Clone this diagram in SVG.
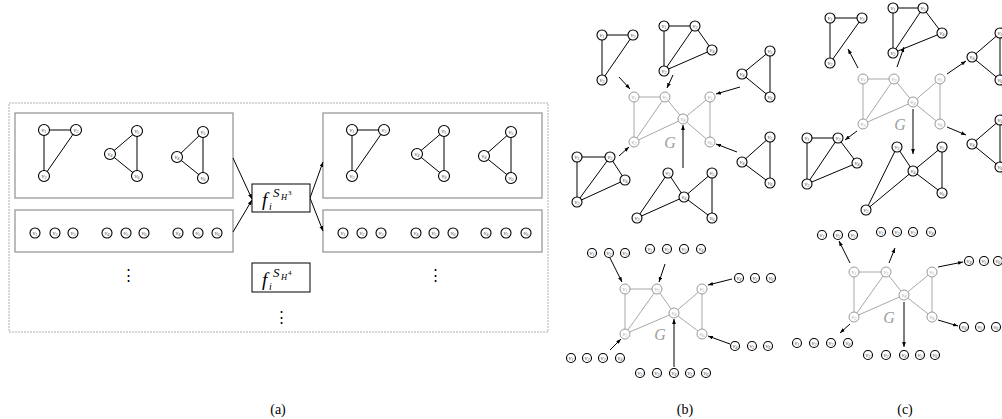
<svg xmlns="http://www.w3.org/2000/svg" width="1002" height="419" viewBox="0 0 1002 419">
<defs>
<marker id="ah" viewBox="0 0 8 6" refX="8" refY="3" markerWidth="5" markerHeight="4" orient="auto"><path d="M0,0 L8,3 L0,6 z" fill="#000"/></marker>
</defs>
<style>
.k{fill:#fff;stroke:#000;stroke-width:1.1}
.q{fill:#fff;stroke:#999;stroke-width:1}
.l{font-family:"Liberation Serif",serif;font-style:italic;font-size:6.5px;fill:#555;text-anchor:middle}
.lq{fill:#aaa}
.sb{font-size:4.5px}
.e{stroke:#000;stroke-width:1;fill:none}
.ge{stroke:#a8a8a8;stroke-width:1}
.ar{stroke:#000;stroke-width:1;marker-end:url(#ah)}
.box{fill:none;stroke:#999;stroke-width:1.3}
.dash{fill:none;stroke:#999;stroke-width:0.8;stroke-dasharray:2 1}
.fb{fill:#fff;stroke:#000;stroke-width:1}
.fi{font-family:"Liberation Serif",serif;font-style:italic;fill:#000}
.cap{font-family:"Liberation Serif",serif;font-size:14px;text-anchor:middle;fill:#000}
.dots{font-family:"DejaVu Serif",serif;font-size:15px;text-anchor:middle;fill:#000}
.G{font-family:"Liberation Serif",serif;font-style:italic;font-size:16px;fill:#a0a0a0;text-anchor:middle}
</style>
<rect id="panelA" class="dash" x="9" y="103" width="539" height="229"/>
<rect id="boxL1" class="box" x="15" y="113" width="218" height="85"/>
<rect id="boxL2" class="box" x="15" y="210" width="218" height="42"/>
<rect id="boxR1" class="box" x="323" y="113" width="219" height="85"/>
<rect id="boxR2" class="box" x="323" y="210" width="219" height="42"/>
<g id="connectors">
<line class="e" x1="44" y1="130" x2="76" y2="130"/><line class="e" x1="44" y1="130" x2="44" y2="176"/><line class="e" x1="76" y1="130" x2="44" y2="176"/>
<line class="e" x1="110" y1="154" x2="137" y2="131"/><line class="e" x1="110" y1="154" x2="137" y2="176"/><line class="e" x1="137" y1="131" x2="137" y2="176"/>
<line class="e" x1="177" y1="157" x2="203" y2="132"/><line class="e" x1="177" y1="157" x2="203" y2="178"/><line class="e" x1="203" y1="132" x2="203" y2="178"/>
<line class="e" x1="352" y1="130" x2="384" y2="130"/><line class="e" x1="352" y1="130" x2="352" y2="176"/><line class="e" x1="384" y1="130" x2="352" y2="176"/>
<line class="e" x1="417" y1="154" x2="444" y2="131"/><line class="e" x1="417" y1="154" x2="444" y2="176"/><line class="e" x1="444" y1="131" x2="444" y2="176"/>
<line class="e" x1="484" y1="156" x2="511" y2="132"/><line class="e" x1="484" y1="156" x2="511" y2="178"/><line class="e" x1="511" y1="132" x2="511" y2="178"/>
<line class="ar" x1="233" y1="158" x2="252" y2="199"/><line class="ar" x1="233" y1="232" x2="252" y2="200"/>
<line class="ar" x1="310" y1="198" x2="323" y2="162"/><line class="ar" x1="310" y1="198" x2="323" y2="231"/>
<line class="ge" x1="634" y1="97" x2="665" y2="97"/><line class="ge" x1="634" y1="97" x2="634" y2="142"/><line class="ge" x1="634" y1="142" x2="665" y2="97"/><line class="ge" x1="634" y1="142" x2="683" y2="119"/><line class="ge" x1="665" y1="97" x2="683" y2="119"/><line class="ge" x1="683" y1="119" x2="710" y2="97"/><line class="ge" x1="683" y1="119" x2="710" y2="142"/><line class="ge" x1="710" y1="97" x2="710" y2="142"/>
<line class="e" x1="602" y1="35" x2="633" y2="35"/><line class="e" x1="602" y1="35" x2="602" y2="80"/><line class="e" x1="633" y1="35" x2="602" y2="80"/>
<line class="e" x1="664" y1="26" x2="695" y2="26"/><line class="e" x1="664" y1="26" x2="664" y2="71"/><line class="e" x1="664" y1="71" x2="695" y2="26"/><line class="e" x1="695" y1="26" x2="712" y2="50"/><line class="e" x1="664" y1="71" x2="712" y2="50"/>
<line class="e" x1="742" y1="74" x2="770" y2="51"/><line class="e" x1="742" y1="74" x2="770" y2="97"/><line class="e" x1="770" y1="51" x2="770" y2="97"/>
<line class="e" x1="742" y1="162" x2="770" y2="137"/><line class="e" x1="742" y1="162" x2="770" y2="183"/><line class="e" x1="770" y1="137" x2="770" y2="183"/>
<line class="e" x1="637" y1="218" x2="668" y2="173"/><line class="e" x1="637" y1="218" x2="684" y2="197"/><line class="e" x1="668" y1="173" x2="684" y2="197"/><line class="e" x1="684" y1="197" x2="712" y2="173"/><line class="e" x1="684" y1="197" x2="712" y2="218"/><line class="e" x1="712" y1="173" x2="712" y2="218"/>
<line class="e" x1="577" y1="157" x2="610" y2="157"/><line class="e" x1="577" y1="157" x2="577" y2="202"/><line class="e" x1="577" y1="202" x2="610" y2="157"/><line class="e" x1="610" y1="157" x2="625" y2="180"/><line class="e" x1="577" y1="202" x2="625" y2="180"/>
<line class="ar" x1="619" y1="77" x2="630" y2="89"/><line class="ar" x1="673" y1="75" x2="667" y2="88"/><line class="ar" x1="740" y1="87" x2="716" y2="94"/><line class="ar" x1="737" y1="152" x2="716" y2="144"/><line class="ar" x1="683" y1="168" x2="683" y2="125"/><line class="ar" x1="619" y1="156" x2="629" y2="147"/>
<line class="ge" x1="625" y1="289" x2="657" y2="289"/><line class="ge" x1="625" y1="289" x2="625" y2="334"/><line class="ge" x1="625" y1="334" x2="657" y2="289"/><line class="ge" x1="625" y1="334" x2="674" y2="313"/><line class="ge" x1="657" y1="289" x2="674" y2="313"/><line class="ge" x1="674" y1="313" x2="702" y2="289"/><line class="ge" x1="674" y1="313" x2="702" y2="334"/><line class="ge" x1="702" y1="289" x2="702" y2="334"/>
<line class="ar" x1="610" y1="258" x2="622" y2="282"/><line class="ar" x1="665" y1="264" x2="659" y2="282"/><line class="ar" x1="732" y1="279" x2="708" y2="285"/><line class="ar" x1="730" y1="344" x2="708" y2="336"/><line class="ar" x1="610" y1="350" x2="621" y2="339"/><line class="ar" x1="674" y1="367" x2="674" y2="319"/>
<line class="ge" x1="863" y1="79" x2="894" y2="79"/><line class="ge" x1="863" y1="79" x2="863" y2="124"/><line class="ge" x1="863" y1="124" x2="894" y2="79"/><line class="ge" x1="863" y1="124" x2="913" y2="102"/><line class="ge" x1="894" y1="79" x2="913" y2="102"/><line class="ge" x1="913" y1="102" x2="940" y2="79"/><line class="ge" x1="913" y1="102" x2="940" y2="124"/><line class="ge" x1="940" y1="79" x2="940" y2="124"/>
<line class="e" x1="830" y1="18" x2="862" y2="18"/><line class="e" x1="830" y1="18" x2="830" y2="63"/><line class="e" x1="862" y1="18" x2="830" y2="63"/>
<line class="e" x1="893" y1="8" x2="923" y2="8"/><line class="e" x1="893" y1="8" x2="893" y2="53"/><line class="e" x1="893" y1="53" x2="923" y2="8"/><line class="e" x1="923" y1="8" x2="942" y2="33"/><line class="e" x1="893" y1="53" x2="942" y2="33"/>
<line class="e" x1="972" y1="57" x2="1000" y2="33"/><line class="e" x1="972" y1="57" x2="1000" y2="80"/><line class="e" x1="1000" y1="33" x2="1000" y2="80"/>
<line class="e" x1="972" y1="144" x2="1000" y2="120"/><line class="e" x1="972" y1="144" x2="1000" y2="167"/><line class="e" x1="1000" y1="120" x2="1000" y2="167"/>
<line class="e" x1="866" y1="210" x2="897" y2="147"/><line class="e" x1="866" y1="210" x2="913" y2="171"/><line class="e" x1="897" y1="147" x2="913" y2="171"/><line class="e" x1="913" y1="171" x2="942" y2="147"/><line class="e" x1="913" y1="171" x2="942" y2="193"/><line class="e" x1="942" y1="147" x2="942" y2="193"/>
<line class="e" x1="807" y1="138" x2="838" y2="138"/><line class="e" x1="807" y1="138" x2="807" y2="184"/><line class="e" x1="807" y1="184" x2="838" y2="138"/><line class="e" x1="838" y1="138" x2="857" y2="163"/><line class="e" x1="807" y1="184" x2="857" y2="163"/>
<line class="ar" x1="858" y1="68" x2="848" y2="49"/><line class="ar" x1="897" y1="67" x2="904" y2="47"/><line class="ar" x1="947" y1="74" x2="966" y2="61"/><line class="ar" x1="947" y1="127" x2="966" y2="135"/><line class="ar" x1="913" y1="109" x2="913" y2="154"/><line class="ar" x1="857" y1="131" x2="845" y2="140"/>
<line class="ge" x1="854" y1="272" x2="886" y2="272"/><line class="ge" x1="854" y1="272" x2="854" y2="317"/><line class="ge" x1="854" y1="317" x2="886" y2="272"/><line class="ge" x1="854" y1="317" x2="904" y2="295"/><line class="ge" x1="886" y1="272" x2="904" y2="295"/><line class="ge" x1="904" y1="295" x2="932" y2="272"/><line class="ge" x1="904" y1="295" x2="932" y2="317"/><line class="ge" x1="932" y1="272" x2="932" y2="317"/>
<line class="ar" x1="850" y1="263" x2="839" y2="241"/><line class="ar" x1="889" y1="263" x2="895" y2="248"/><line class="ar" x1="938" y1="267" x2="963" y2="262"/><line class="ar" x1="938" y1="320" x2="958" y2="326"/><line class="ar" x1="850" y1="324" x2="840" y2="333"/><line class="ar" x1="904" y1="302" x2="904" y2="347"/>
</g>
<g id="aL1v1"><circle class="k" cx="44" cy="130" r="5.5"/><text class="l" x="44" y="131.8">ν<tspan class="sb" dy="1">1</tspan></text></g>
<g id="aL1v3"><circle class="k" cx="76" cy="130" r="5.5"/><text class="l" x="76" y="131.8">ν<tspan class="sb" dy="1">3</tspan></text></g>
<g id="aL1v2"><circle class="k" cx="44" cy="176" r="5.5"/><text class="l" x="44" y="177.8">ν<tspan class="sb" dy="1">2</tspan></text></g>
<g id="aL2v5"><circle class="k" cx="137" cy="131" r="5.5"/><text class="l" x="137" y="132.8">ν<tspan class="sb" dy="1">5</tspan></text></g>
<g id="aL2v4"><circle class="k" cx="110" cy="154" r="5.5"/><text class="l" x="110" y="155.8">ν<tspan class="sb" dy="1">4</tspan></text></g>
<g id="aL2v6"><circle class="k" cx="137" cy="176" r="5.5"/><text class="l" x="137" y="177.8">ν<tspan class="sb" dy="1">6</tspan></text></g>
<g id="aL3v5"><circle class="k" cx="203" cy="132" r="5.5"/><text class="l" x="203" y="133.8">ν<tspan class="sb" dy="1">5</tspan></text></g>
<g id="aL3v4"><circle class="k" cx="177" cy="157" r="5.5"/><text class="l" x="177" y="158.8">ν<tspan class="sb" dy="1">4</tspan></text></g>
<g id="aL3v6"><circle class="k" cx="203" cy="178" r="5.5"/><text class="l" x="203" y="179.8">ν<tspan class="sb" dy="1">6</tspan></text></g>
<g id="aLr1"><circle class="k" cx="35" cy="233" r="5"/><text class="l" x="35" y="234.8">ν<tspan class="sb" dy="1">1</tspan></text></g>
<g id="aLr2"><circle class="k" cx="55" cy="233" r="5"/><text class="l" x="55" y="234.8">ν<tspan class="sb" dy="1">2</tspan></text></g>
<g id="aLr3"><circle class="k" cx="73" cy="233" r="5"/><text class="l" x="73" y="234.8">ν<tspan class="sb" dy="1">3</tspan></text></g>
<g id="aLr4"><circle class="k" cx="107" cy="233" r="5"/><text class="l" x="107" y="234.8">ν<tspan class="sb" dy="1">4</tspan></text></g>
<g id="aLr5"><circle class="k" cx="126" cy="233" r="5"/><text class="l" x="126" y="234.8">ν<tspan class="sb" dy="1">5</tspan></text></g>
<g id="aLr6"><circle class="k" cx="144" cy="233" r="5"/><text class="l" x="144" y="234.8">ν<tspan class="sb" dy="1">6</tspan></text></g>
<g id="aLr7"><circle class="k" cx="178" cy="233" r="5"/><text class="l" x="178" y="234.8">ν<tspan class="sb" dy="1">4</tspan></text></g>
<g id="aLr8"><circle class="k" cx="198" cy="233" r="5"/><text class="l" x="198" y="234.8">ν<tspan class="sb" dy="1">5</tspan></text></g>
<g id="aLr9"><circle class="k" cx="217" cy="233" r="5"/><text class="l" x="217" y="234.8">ν<tspan class="sb" dy="1">6</tspan></text></g>
<g id="aR1v1"><circle class="k" cx="352" cy="130" r="5.5"/><text class="l" x="352" y="131.8">ν<tspan class="sb" dy="1">1</tspan></text></g>
<g id="aR1v3"><circle class="k" cx="384" cy="130" r="5.5"/><text class="l" x="384" y="131.8">ν<tspan class="sb" dy="1">3</tspan></text></g>
<g id="aR1v2"><circle class="k" cx="352" cy="176" r="5.5"/><text class="l" x="352" y="177.8">ν<tspan class="sb" dy="1">2</tspan></text></g>
<g id="aR2v5"><circle class="k" cx="444" cy="131" r="5.5"/><text class="l" x="444" y="132.8">ν<tspan class="sb" dy="1">5</tspan></text></g>
<g id="aR2v4"><circle class="k" cx="417" cy="154" r="5.5"/><text class="l" x="417" y="155.8">ν<tspan class="sb" dy="1">4</tspan></text></g>
<g id="aR2v6"><circle class="k" cx="444" cy="176" r="5.5"/><text class="l" x="444" y="177.8">ν<tspan class="sb" dy="1">6</tspan></text></g>
<g id="aR3v5"><circle class="k" cx="511" cy="132" r="5.5"/><text class="l" x="511" y="133.8">ν<tspan class="sb" dy="1">5</tspan></text></g>
<g id="aR3v4"><circle class="k" cx="484" cy="156" r="5.5"/><text class="l" x="484" y="157.8">ν<tspan class="sb" dy="1">4</tspan></text></g>
<g id="aR3v6"><circle class="k" cx="511" cy="178" r="5.5"/><text class="l" x="511" y="179.8">ν<tspan class="sb" dy="1">6</tspan></text></g>
<g id="aRr1"><circle class="k" cx="343" cy="233" r="5"/><text class="l" x="343" y="234.8">ν<tspan class="sb" dy="1">1</tspan></text></g>
<g id="aRr2"><circle class="k" cx="362" cy="233" r="5"/><text class="l" x="362" y="234.8">ν<tspan class="sb" dy="1">2</tspan></text></g>
<g id="aRr3"><circle class="k" cx="381" cy="233" r="5"/><text class="l" x="381" y="234.8">ν<tspan class="sb" dy="1">3</tspan></text></g>
<g id="aRr4"><circle class="k" cx="416" cy="233" r="5"/><text class="l" x="416" y="234.8">ν<tspan class="sb" dy="1">4</tspan></text></g>
<g id="aRr5"><circle class="k" cx="434" cy="233" r="5"/><text class="l" x="434" y="234.8">ν<tspan class="sb" dy="1">5</tspan></text></g>
<g id="aRr6"><circle class="k" cx="453" cy="233" r="5"/><text class="l" x="453" y="234.8">ν<tspan class="sb" dy="1">6</tspan></text></g>
<g id="aRr7"><circle class="k" cx="486" cy="233" r="5"/><text class="l" x="486" y="234.8">ν<tspan class="sb" dy="1">4</tspan></text></g>
<g id="aRr8"><circle class="k" cx="506" cy="233" r="5"/><text class="l" x="506" y="234.8">ν<tspan class="sb" dy="1">5</tspan></text></g>
<g id="aRr9"><circle class="k" cx="526" cy="233" r="5"/><text class="l" x="526" y="234.8">ν<tspan class="sb" dy="1">6</tspan></text></g>
<g id="f3"><rect class="fb" x="252" y="184" width="58" height="28"/><text class="fi" x="262" y="206" font-size="19">f</text><text class="fi" x="269" y="210" font-size="10">i</text><text class="fi" x="273" y="197" font-size="13">S</text><text class="fi" x="281" y="200" font-size="8.5">H</text><text font-family="Liberation Serif" x="288" y="195" font-size="7">3</text></g>
<g id="f4"><rect class="fb" x="252" y="263" width="58" height="29"/><text class="fi" x="262" y="285.5" font-size="19">f</text><text class="fi" x="269" y="289.5" font-size="10">i</text><text class="fi" x="273" y="276.5" font-size="13">S</text><text class="fi" x="281" y="279.5" font-size="8.5">H</text><text font-family="Liberation Serif" x="288" y="274.5" font-size="7">4</text></g>
<text class="dots" x="128" y="280">⋮</text>
<text class="dots" x="281" y="322">⋮</text>
<text class="dots" x="435" y="280">⋮</text>
<g id="bG1"><circle class="q" cx="634" cy="97" r="5"/><text class="l lq" x="634" y="98.8">ν<tspan class="sb" dy="1">1</tspan></text></g>
<g id="bG3"><circle class="q" cx="665" cy="97" r="5"/><text class="l lq" x="665" y="98.8">ν<tspan class="sb" dy="1">3</tspan></text></g>
<g id="bG2"><circle class="q" cx="634" cy="142" r="5"/><text class="l lq" x="634" y="143.8">ν<tspan class="sb" dy="1">2</tspan></text></g>
<g id="bG4"><circle class="q" cx="683" cy="119" r="5"/><text class="l lq" x="683" y="120.8">ν<tspan class="sb" dy="1">4</tspan></text></g>
<g id="bG5"><circle class="q" cx="710" cy="97" r="5"/><text class="l lq" x="710" y="98.8">ν<tspan class="sb" dy="1">5</tspan></text></g>
<g id="bG6"><circle class="q" cx="710" cy="142" r="5"/><text class="l lq" x="710" y="143.8">ν<tspan class="sb" dy="1">6</tspan></text></g>
<text class="G" x="670" y="148">G</text>
<g id="bTL1"><circle class="k" cx="602" cy="35" r="5"/><text class="l" x="602" y="36.8">ν<tspan class="sb" dy="1">1</tspan></text></g>
<g id="bTL3"><circle class="k" cx="633" cy="35" r="5"/><text class="l" x="633" y="36.8">ν<tspan class="sb" dy="1">3</tspan></text></g>
<g id="bTL2"><circle class="k" cx="602" cy="80" r="5"/><text class="l" x="602" y="81.8">ν<tspan class="sb" dy="1">2</tspan></text></g>
<g id="bTM1"><circle class="k" cx="664" cy="26" r="5"/><text class="l" x="664" y="27.8">ν<tspan class="sb" dy="1">1</tspan></text></g>
<g id="bTM3"><circle class="k" cx="695" cy="26" r="5"/><text class="l" x="695" y="27.8">ν<tspan class="sb" dy="1">3</tspan></text></g>
<g id="bTM4"><circle class="k" cx="712" cy="50" r="5"/><text class="l" x="712" y="51.8">ν<tspan class="sb" dy="1">4</tspan></text></g>
<g id="bTM2"><circle class="k" cx="664" cy="71" r="5"/><text class="l" x="664" y="72.8">ν<tspan class="sb" dy="1">2</tspan></text></g>
<g id="bTR5"><circle class="k" cx="770" cy="51" r="5"/><text class="l" x="770" y="52.8">ν<tspan class="sb" dy="1">5</tspan></text></g>
<g id="bTR4"><circle class="k" cx="742" cy="74" r="5"/><text class="l" x="742" y="75.8">ν<tspan class="sb" dy="1">4</tspan></text></g>
<g id="bTR6"><circle class="k" cx="770" cy="97" r="5"/><text class="l" x="770" y="98.8">ν<tspan class="sb" dy="1">6</tspan></text></g>
<g id="bRM5"><circle class="k" cx="770" cy="137" r="5"/><text class="l" x="770" y="138.8">ν<tspan class="sb" dy="1">5</tspan></text></g>
<g id="bRM4"><circle class="k" cx="742" cy="162" r="5"/><text class="l" x="742" y="163.8">ν<tspan class="sb" dy="1">4</tspan></text></g>
<g id="bRM6"><circle class="k" cx="770" cy="183" r="5"/><text class="l" x="770" y="184.8">ν<tspan class="sb" dy="1">6</tspan></text></g>
<g id="bBo3"><circle class="k" cx="668" cy="173" r="5"/><text class="l" x="668" y="174.8">ν<tspan class="sb" dy="1">3</tspan></text></g>
<g id="bBo5"><circle class="k" cx="712" cy="173" r="5"/><text class="l" x="712" y="174.8">ν<tspan class="sb" dy="1">5</tspan></text></g>
<g id="bBo4"><circle class="k" cx="684" cy="197" r="5"/><text class="l" x="684" y="198.8">ν<tspan class="sb" dy="1">4</tspan></text></g>
<g id="bBo2"><circle class="k" cx="637" cy="218" r="5"/><text class="l" x="637" y="219.8">ν<tspan class="sb" dy="1">2</tspan></text></g>
<g id="bBo6"><circle class="k" cx="712" cy="218" r="5"/><text class="l" x="712" y="219.8">ν<tspan class="sb" dy="1">6</tspan></text></g>
<g id="bLB1"><circle class="k" cx="577" cy="157" r="5"/><text class="l" x="577" y="158.8">ν<tspan class="sb" dy="1">1</tspan></text></g>
<g id="bLB3"><circle class="k" cx="610" cy="157" r="5"/><text class="l" x="610" y="158.8">ν<tspan class="sb" dy="1">3</tspan></text></g>
<g id="bLB4"><circle class="k" cx="625" cy="180" r="5"/><text class="l" x="625" y="181.8">ν<tspan class="sb" dy="1">4</tspan></text></g>
<g id="bLB2"><circle class="k" cx="577" cy="202" r="5"/><text class="l" x="577" y="203.8">ν<tspan class="sb" dy="1">2</tspan></text></g>
<g id="bg1"><circle class="q" cx="625" cy="289" r="5"/><text class="l lq" x="625" y="290.8">ν<tspan class="sb" dy="1">1</tspan></text></g>
<g id="bg3"><circle class="q" cx="657" cy="289" r="5"/><text class="l lq" x="657" y="290.8">ν<tspan class="sb" dy="1">3</tspan></text></g>
<g id="bg2"><circle class="q" cx="625" cy="334" r="5"/><text class="l lq" x="625" y="335.8">ν<tspan class="sb" dy="1">2</tspan></text></g>
<g id="bg4"><circle class="q" cx="674" cy="313" r="5"/><text class="l lq" x="674" y="314.8">ν<tspan class="sb" dy="1">4</tspan></text></g>
<g id="bg5"><circle class="q" cx="702" cy="289" r="5"/><text class="l lq" x="702" y="290.8">ν<tspan class="sb" dy="1">5</tspan></text></g>
<g id="bg6"><circle class="q" cx="702" cy="334" r="5"/><text class="l lq" x="702" y="335.8">ν<tspan class="sb" dy="1">6</tspan></text></g>
<text class="G" x="660" y="340">G</text>
<g id="bR1a"><circle class="k" cx="592" cy="253" r="4.5"/><text class="l" x="592" y="254.8">ν<tspan class="sb" dy="1">1</tspan></text></g>
<g id="bR1b"><circle class="k" cx="609" cy="253" r="4.5"/><text class="l" x="609" y="254.8">ν<tspan class="sb" dy="1">2</tspan></text></g>
<g id="bR1c"><circle class="k" cx="625" cy="253" r="4.5"/><text class="l" x="625" y="254.8">ν<tspan class="sb" dy="1">3</tspan></text></g>
<g id="bR2a"><circle class="k" cx="650" cy="249" r="4.5"/><text class="l" x="650" y="250.8">ν<tspan class="sb" dy="1">1</tspan></text></g>
<g id="bR2b"><circle class="k" cx="667" cy="249" r="4.5"/><text class="l" x="667" y="250.8">ν<tspan class="sb" dy="1">2</tspan></text></g>
<g id="bR2c"><circle class="k" cx="684" cy="249" r="4.5"/><text class="l" x="684" y="250.8">ν<tspan class="sb" dy="1">3</tspan></text></g>
<g id="bR2d"><circle class="k" cx="701" cy="249" r="4.5"/><text class="l" x="701" y="250.8">ν<tspan class="sb" dy="1">4</tspan></text></g>
<g id="bR3a"><circle class="k" cx="739" cy="278" r="4.5"/><text class="l" x="739" y="279.8">ν<tspan class="sb" dy="1">4</tspan></text></g>
<g id="bR3b"><circle class="k" cx="755" cy="278" r="4.5"/><text class="l" x="755" y="279.8">ν<tspan class="sb" dy="1">5</tspan></text></g>
<g id="bR3c"><circle class="k" cx="771" cy="278" r="4.5"/><text class="l" x="771" y="279.8">ν<tspan class="sb" dy="1">6</tspan></text></g>
<g id="bR4a"><circle class="k" cx="735" cy="346" r="4.5"/><text class="l" x="735" y="347.8">ν<tspan class="sb" dy="1">4</tspan></text></g>
<g id="bR4b"><circle class="k" cx="752" cy="346" r="4.5"/><text class="l" x="752" y="347.8">ν<tspan class="sb" dy="1">5</tspan></text></g>
<g id="bR4c"><circle class="k" cx="768" cy="346" r="4.5"/><text class="l" x="768" y="347.8">ν<tspan class="sb" dy="1">6</tspan></text></g>
<g id="bR5a"><circle class="k" cx="571" cy="358" r="4.5"/><text class="l" x="571" y="359.8">ν<tspan class="sb" dy="1">1</tspan></text></g>
<g id="bR5b"><circle class="k" cx="587" cy="358" r="4.5"/><text class="l" x="587" y="359.8">ν<tspan class="sb" dy="1">2</tspan></text></g>
<g id="bR5c"><circle class="k" cx="603" cy="358" r="4.5"/><text class="l" x="603" y="359.8">ν<tspan class="sb" dy="1">3</tspan></text></g>
<g id="bR5d"><circle class="k" cx="620" cy="358" r="4.5"/><text class="l" x="620" y="359.8">ν<tspan class="sb" dy="1">4</tspan></text></g>
<g id="bR6a"><circle class="k" cx="640" cy="373" r="4.5"/><text class="l" x="640" y="374.8">ν<tspan class="sb" dy="1">2</tspan></text></g>
<g id="bR6b"><circle class="k" cx="657" cy="373" r="4.5"/><text class="l" x="657" y="374.8">ν<tspan class="sb" dy="1">3</tspan></text></g>
<g id="bR6c"><circle class="k" cx="674" cy="373" r="4.5"/><text class="l" x="674" y="374.8">ν<tspan class="sb" dy="1">4</tspan></text></g>
<g id="bR6d"><circle class="k" cx="690" cy="373" r="4.5"/><text class="l" x="690" y="374.8">ν<tspan class="sb" dy="1">5</tspan></text></g>
<g id="bR6e"><circle class="k" cx="706" cy="373" r="4.5"/><text class="l" x="706" y="374.8">ν<tspan class="sb" dy="1">6</tspan></text></g>
<g id="cG1"><circle class="q" cx="863" cy="79" r="5"/><text class="l lq" x="863" y="80.8">ν<tspan class="sb" dy="1">1</tspan></text></g>
<g id="cG3"><circle class="q" cx="894" cy="79" r="5"/><text class="l lq" x="894" y="80.8">ν<tspan class="sb" dy="1">3</tspan></text></g>
<g id="cG2"><circle class="q" cx="863" cy="124" r="5"/><text class="l lq" x="863" y="125.8">ν<tspan class="sb" dy="1">2</tspan></text></g>
<g id="cG4"><circle class="q" cx="913" cy="102" r="5"/><text class="l lq" x="913" y="103.8">ν<tspan class="sb" dy="1">4</tspan></text></g>
<g id="cG5"><circle class="q" cx="940" cy="79" r="5"/><text class="l lq" x="940" y="80.8">ν<tspan class="sb" dy="1">5</tspan></text></g>
<g id="cG6"><circle class="q" cx="940" cy="124" r="5"/><text class="l lq" x="940" y="125.8">ν<tspan class="sb" dy="1">6</tspan></text></g>
<text class="G" x="900" y="130">G</text>
<g id="cTL1"><circle class="k" cx="830" cy="18" r="5"/><text class="l" x="830" y="19.8">ν<tspan class="sb" dy="1">1</tspan></text></g>
<g id="cTL3"><circle class="k" cx="862" cy="18" r="5"/><text class="l" x="862" y="19.8">ν<tspan class="sb" dy="1">3</tspan></text></g>
<g id="cTL2"><circle class="k" cx="830" cy="63" r="5"/><text class="l" x="830" y="64.8">ν<tspan class="sb" dy="1">2</tspan></text></g>
<g id="cTM1"><circle class="k" cx="893" cy="8" r="5"/><text class="l" x="893" y="9.8">ν<tspan class="sb" dy="1">1</tspan></text></g>
<g id="cTM3"><circle class="k" cx="923" cy="8" r="5"/><text class="l" x="923" y="9.8">ν<tspan class="sb" dy="1">3</tspan></text></g>
<g id="cTM4"><circle class="k" cx="942" cy="33" r="5"/><text class="l" x="942" y="34.8">ν<tspan class="sb" dy="1">4</tspan></text></g>
<g id="cTM2"><circle class="k" cx="893" cy="53" r="5"/><text class="l" x="893" y="54.8">ν<tspan class="sb" dy="1">2</tspan></text></g>
<g id="cTR5"><circle class="k" cx="1000" cy="33" r="5"/><text class="l" x="1000" y="34.8">ν<tspan class="sb" dy="1">5</tspan></text></g>
<g id="cTR4"><circle class="k" cx="972" cy="57" r="5"/><text class="l" x="972" y="58.8">ν<tspan class="sb" dy="1">4</tspan></text></g>
<g id="cTR6"><circle class="k" cx="1000" cy="80" r="5"/><text class="l" x="1000" y="81.8">ν<tspan class="sb" dy="1">6</tspan></text></g>
<g id="cRM5"><circle class="k" cx="1000" cy="120" r="5"/><text class="l" x="1000" y="121.8">ν<tspan class="sb" dy="1">5</tspan></text></g>
<g id="cRM4"><circle class="k" cx="972" cy="144" r="5"/><text class="l" x="972" y="145.8">ν<tspan class="sb" dy="1">4</tspan></text></g>
<g id="cRM6"><circle class="k" cx="1000" cy="167" r="5"/><text class="l" x="1000" y="168.8">ν<tspan class="sb" dy="1">6</tspan></text></g>
<g id="cBo3"><circle class="k" cx="897" cy="147" r="5"/><text class="l" x="897" y="148.8">ν<tspan class="sb" dy="1">3</tspan></text></g>
<g id="cBo5"><circle class="k" cx="942" cy="147" r="5"/><text class="l" x="942" y="148.8">ν<tspan class="sb" dy="1">5</tspan></text></g>
<g id="cBo4"><circle class="k" cx="913" cy="171" r="5"/><text class="l" x="913" y="172.8">ν<tspan class="sb" dy="1">4</tspan></text></g>
<g id="cBo6"><circle class="k" cx="942" cy="193" r="5"/><text class="l" x="942" y="194.8">ν<tspan class="sb" dy="1">6</tspan></text></g>
<g id="cBo2"><circle class="k" cx="866" cy="210" r="5"/><text class="l" x="866" y="211.8">ν<tspan class="sb" dy="1">2</tspan></text></g>
<g id="cLB1"><circle class="k" cx="807" cy="138" r="5"/><text class="l" x="807" y="139.8">ν<tspan class="sb" dy="1">1</tspan></text></g>
<g id="cLB3"><circle class="k" cx="838" cy="138" r="5"/><text class="l" x="838" y="139.8">ν<tspan class="sb" dy="1">3</tspan></text></g>
<g id="cLB4"><circle class="k" cx="857" cy="163" r="5"/><text class="l" x="857" y="164.8">ν<tspan class="sb" dy="1">4</tspan></text></g>
<g id="cLB2"><circle class="k" cx="807" cy="184" r="5"/><text class="l" x="807" y="185.8">ν<tspan class="sb" dy="1">2</tspan></text></g>
<g id="cg1"><circle class="q" cx="854" cy="272" r="5"/><text class="l lq" x="854" y="273.8">ν<tspan class="sb" dy="1">1</tspan></text></g>
<g id="cg3"><circle class="q" cx="886" cy="272" r="5"/><text class="l lq" x="886" y="273.8">ν<tspan class="sb" dy="1">3</tspan></text></g>
<g id="cg2"><circle class="q" cx="854" cy="317" r="5"/><text class="l lq" x="854" y="318.8">ν<tspan class="sb" dy="1">2</tspan></text></g>
<g id="cg4"><circle class="q" cx="904" cy="295" r="5"/><text class="l lq" x="904" y="296.8">ν<tspan class="sb" dy="1">4</tspan></text></g>
<g id="cg5"><circle class="q" cx="932" cy="272" r="5"/><text class="l lq" x="932" y="273.8">ν<tspan class="sb" dy="1">5</tspan></text></g>
<g id="cg6"><circle class="q" cx="932" cy="317" r="5"/><text class="l lq" x="932" y="318.8">ν<tspan class="sb" dy="1">6</tspan></text></g>
<text class="G" x="889" y="323">G</text>
<g id="cR1a"><circle class="k" cx="822" cy="235" r="4.5"/><text class="l" x="822" y="236.8">ν<tspan class="sb" dy="1">1</tspan></text></g>
<g id="cR1b"><circle class="k" cx="838" cy="235" r="4.5"/><text class="l" x="838" y="236.8">ν<tspan class="sb" dy="1">2</tspan></text></g>
<g id="cR1c"><circle class="k" cx="853" cy="235" r="4.5"/><text class="l" x="853" y="236.8">ν<tspan class="sb" dy="1">3</tspan></text></g>
<g id="cR2a"><circle class="k" cx="881" cy="232" r="4.5"/><text class="l" x="881" y="233.8">ν<tspan class="sb" dy="1">1</tspan></text></g>
<g id="cR2b"><circle class="k" cx="897" cy="232" r="4.5"/><text class="l" x="897" y="233.8">ν<tspan class="sb" dy="1">2</tspan></text></g>
<g id="cR2c"><circle class="k" cx="913" cy="232" r="4.5"/><text class="l" x="913" y="233.8">ν<tspan class="sb" dy="1">3</tspan></text></g>
<g id="cR2d"><circle class="k" cx="931" cy="232" r="4.5"/><text class="l" x="931" y="233.8">ν<tspan class="sb" dy="1">4</tspan></text></g>
<g id="cR3a"><circle class="k" cx="969" cy="261" r="4.5"/><text class="l" x="969" y="262.8">ν<tspan class="sb" dy="1">4</tspan></text></g>
<g id="cR3b"><circle class="k" cx="984" cy="261" r="4.5"/><text class="l" x="984" y="262.8">ν<tspan class="sb" dy="1">5</tspan></text></g>
<g id="cR3c"><circle class="k" cx="998" cy="261" r="4.5"/><text class="l" x="998" y="262.8">ν<tspan class="sb" dy="1">6</tspan></text></g>
<g id="cR4a"><circle class="k" cx="964" cy="327" r="4.5"/><text class="l" x="964" y="328.8">ν<tspan class="sb" dy="1">4</tspan></text></g>
<g id="cR4b"><circle class="k" cx="980" cy="327" r="4.5"/><text class="l" x="980" y="328.8">ν<tspan class="sb" dy="1">5</tspan></text></g>
<g id="cR4c"><circle class="k" cx="996" cy="327" r="4.5"/><text class="l" x="996" y="328.8">ν<tspan class="sb" dy="1">6</tspan></text></g>
<g id="cR5a"><circle class="k" cx="797" cy="343" r="4.5"/><text class="l" x="797" y="344.8">ν<tspan class="sb" dy="1">1</tspan></text></g>
<g id="cR5b"><circle class="k" cx="814" cy="343" r="4.5"/><text class="l" x="814" y="344.8">ν<tspan class="sb" dy="1">2</tspan></text></g>
<g id="cR5c"><circle class="k" cx="831" cy="343" r="4.5"/><text class="l" x="831" y="344.8">ν<tspan class="sb" dy="1">3</tspan></text></g>
<g id="cR5d"><circle class="k" cx="848" cy="343" r="4.5"/><text class="l" x="848" y="344.8">ν<tspan class="sb" dy="1">4</tspan></text></g>
<g id="cR6a"><circle class="k" cx="868" cy="355" r="4.5"/><text class="l" x="868" y="356.8">ν<tspan class="sb" dy="1">2</tspan></text></g>
<g id="cR6b"><circle class="k" cx="886" cy="355" r="4.5"/><text class="l" x="886" y="356.8">ν<tspan class="sb" dy="1">3</tspan></text></g>
<g id="cR6c"><circle class="k" cx="904" cy="355" r="4.5"/><text class="l" x="904" y="356.8">ν<tspan class="sb" dy="1">4</tspan></text></g>
<g id="cR6d"><circle class="k" cx="920" cy="355" r="4.5"/><text class="l" x="920" y="356.8">ν<tspan class="sb" dy="1">5</tspan></text></g>
<g id="cR6e"><circle class="k" cx="935" cy="355" r="4.5"/><text class="l" x="935" y="356.8">ν<tspan class="sb" dy="1">6</tspan></text></g>
<text class="cap" x="278" y="414">(a)</text>
<text class="cap" x="685" y="414">(b)</text>
<text class="cap" x="905" y="414">(c)</text>
</svg>
